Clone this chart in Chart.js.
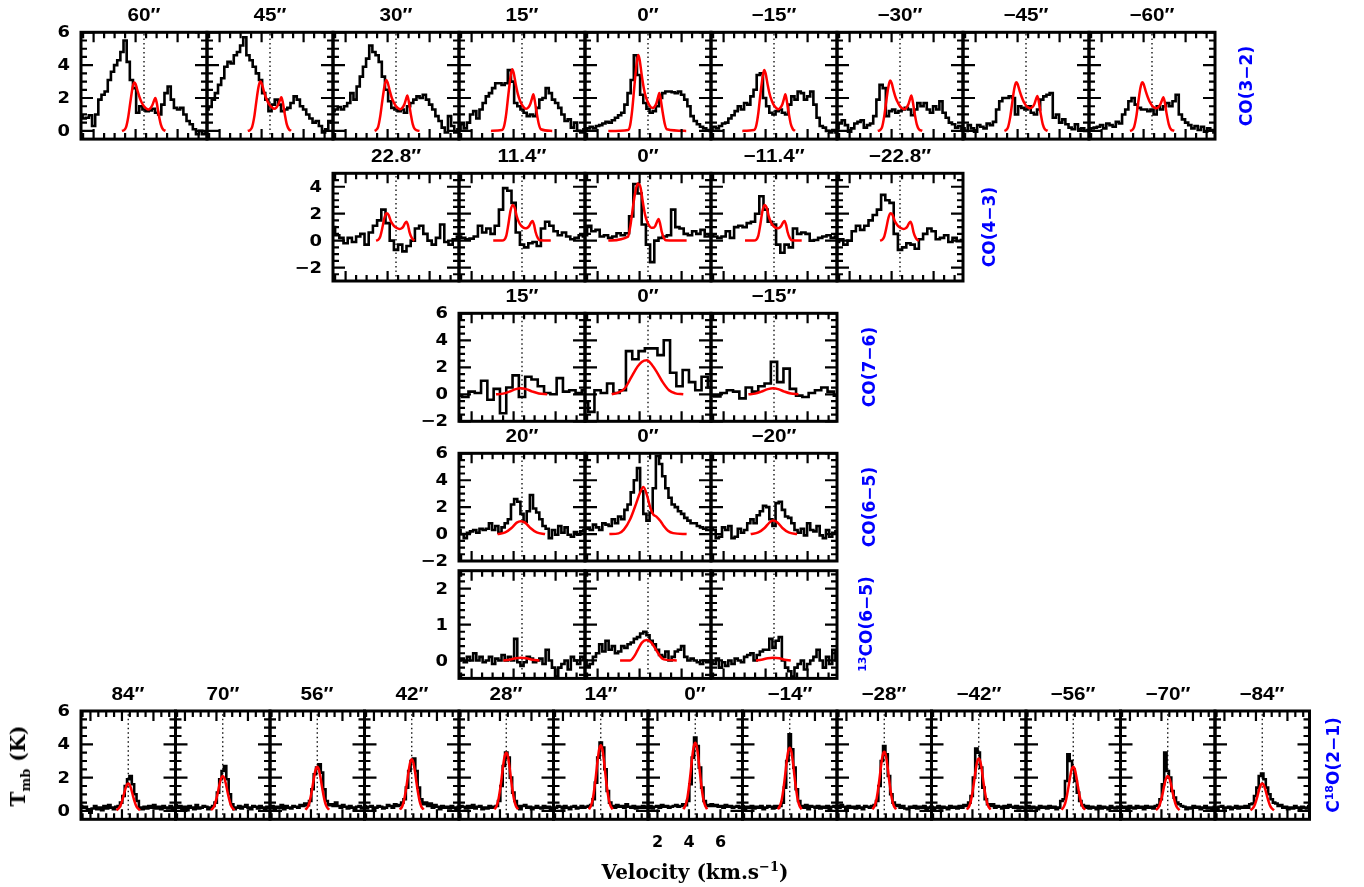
<!DOCTYPE html>
<html>
<head>
<meta charset="utf-8">
<title>CO spectra cuts</title>
<script src="https://cdn.jsdelivr.net/npm/chart.js@4.4.1/dist/chart.umd.min.js"></script>
<style>
  body { margin: 0; background: #fff; }
  #page { position: relative; width: 1364px; height: 887px; overflow: hidden; background: #fff; }
  canvas { position: absolute; }
  .ttl { position: absolute; transform: translate(-50%, -50%) scaleX(1.15); font: bold 18px "Liberation Sans", Arial, sans-serif; color: #000; white-space: nowrap; line-height: 1; }
  .side { position: absolute; transform: translate(-50%, -50%) rotate(-90deg); font: bold 17px "DejaVu Sans", sans-serif; color: #0000ff; white-space: nowrap; line-height: 1; }
  .side sup { font-size: 11px; }
  .axis { position: absolute; font: bold 20px "DejaVu Serif", serif; color: #000; white-space: nowrap; line-height: 1; }
  .axis sup { font-size: 13px; }
  .axis sub { font-size: 13px; }
</style>
</head>
<body>
<div id="page"></div>
<script>
// velocity channels (km/s)
const VEL_41 = [1.4,1.55,1.7,1.85,2.0,2.15,2.3,2.45,2.6,2.75,2.9,3.05,3.2,3.35,3.5,3.65,3.8,3.95,4.1,4.25,4.4,4.55,4.7,4.85,5.0,5.15,5.3,5.45,5.6,5.75,5.9,6.05,6.2,6.35,6.5,6.65,6.8,6.95,7.1,7.25,7.4];
const VEL_31 = [1.4,1.6,1.8,2.0,2.2,2.4,2.6,2.8,3.0,3.2,3.4,3.6,3.8,4.0,4.2,4.4,4.6,4.8,5.0,5.2,5.4,5.6,5.8,6.0,6.2,6.4,6.6,6.8,7.0,7.2,7.4];
const VEL_21 = [1.4,1.7,2.0,2.3,2.6,2.9,3.2,3.5,3.8,4.1,4.4,4.7,5.0,5.3,5.6,5.9,6.2,6.5,6.8,7.1,7.4];

const V_SYS = 4.4;
const X_MIN = 1.4;
const X_MAX = 7.4;
const X_MAJOR = [2, 4, 6];
const X_MINOR = [1.5, 2.5, 3, 3.5, 4.5, 5, 5.5, 6.5, 7];
const X_LABELS = [2, 4, 6];

// ---- CO(3-2) ----
const CO32_TITLES = ["60″", "45″", "30″", "15″", "0″", "−15″", "−30″", "−45″", "−60″"];
const CO32_BLACK = [
  [0.9,0.75,0.8,0.95,0.3,1.0,1.9,2.2,2.4,3.1,3.6,4.0,4.3,4.8,5.5,4.2,3.1,2.6,1.1,1.5,1.3,1.2,1.25,1.35,1.1,1.0,1.6,2.3,2.7,1.9,1.4,1.3,1.4,1.0,0.6,0.4,0.1,-0.2,0.0,-0.2,-0.1],
  [1.3,1.45,1.9,2.3,2.8,3.2,3.9,4.2,4.1,4.6,4.8,5.2,5.7,4.6,4.3,3.9,3.5,3.1,2.3,1.9,1.2,1.6,1.9,1.6,1.2,1.3,1.4,1.7,2.1,1.9,1.5,1.3,1.0,0.75,0.5,0.6,0.3,-0.1,0.1,0.6,0.5],
  [1.2,1.3,1.45,1.3,1.5,1.7,2.3,1.9,2.7,3.3,3.9,4.4,5.2,4.8,4.6,4.2,3.3,2.5,1.8,1.4,1.3,1.2,1.3,1.1,1.5,1.7,1.9,2.1,2.0,2.2,1.9,1.6,1.3,0.9,0.6,0.2,-0.1,0.9,0.3,-0.1,0.1],
  [0.1,0.4,0.15,0.5,1.0,1.2,0.75,1.3,1.7,2.1,2.3,2.6,2.9,2.9,2.8,2.9,3.7,3.0,1.7,1.5,1.3,1.1,0.9,1.0,0.9,1.4,1.9,2.0,2.6,2.3,1.9,1.7,1.4,1.0,0.6,0.7,0.2,0.5,0.0,-0.1,0.1],
  [0.0,0.15,0.25,0.15,0.3,0.35,0.45,0.55,0.5,0.65,0.8,0.95,1.1,1.6,2.3,3.1,4.6,3.4,2.2,1.7,1.35,1.1,1.2,1.5,2.0,2.3,2.4,2.4,2.35,2.3,2.4,2.2,1.9,1.5,0.9,0.6,0.4,0.25,0.15,0.05,0.0],
  [0.05,0.25,0.15,0.3,0.45,0.5,0.75,0.95,1.2,1.5,1.3,1.7,1.6,2.1,2.5,3.4,3.5,2.0,1.5,1.1,1.0,1.2,1.3,1.1,1.0,1.6,2.1,1.9,2.4,2.3,1.9,2.1,2.4,1.6,0.8,0.3,0.2,0.0,-0.1,0.05,-0.1],
  [0.15,0.45,0.65,0.35,-0.05,0.15,0.45,0.55,0.65,0.2,0.35,0.45,0.9,1.9,2.8,2.6,0.9,1.2,1.3,1.1,1.2,1.3,1.4,1.3,0.95,1.3,1.7,1.5,1.7,1.3,1.1,1.5,1.3,1.8,1.1,0.8,0.5,0.4,0.2,0.3,0.1],
  [0.15,0.0,0.35,0.15,-0.05,0.35,0.25,0.15,0.45,0.35,0.55,1.3,1.8,2.0,2.0,2.1,2.0,1.0,1.5,1.4,1.3,1.5,1.1,1.0,1.3,1.9,2.1,2.2,2.3,0.8,1.0,0.5,0.7,0.4,0.2,0.1,0.4,0.1,0.15,0.0,0.05],
  [0.05,0.15,0.2,0.25,0.35,0.15,0.45,0.35,0.25,0.55,0.45,1.0,1.3,1.8,2.0,1.6,1.4,1.3,1.3,1.2,1.3,1.0,1.5,1.3,1.5,1.7,1.5,1.8,2.2,1.0,0.7,0.5,0.35,0.15,0.3,0.05,0.25,-0.05,0.15,0.05,-0.1]
];
const CO32_RED_V = [3.45,3.55,3.65,3.75,3.85,3.93,4.0,4.1,4.2,4.3,4.4,4.5,4.6,4.7,4.8,4.88,4.94,5.0,5.1,5.2,5.3];
const CO32_RED = [
  [0.05,0.25,0.85,1.75,2.6,2.95,2.85,2.4,2.0,1.7,1.5,1.37,1.3,1.37,1.57,1.85,2.0,1.75,1.0,0.4,0.1],
  [0.05,0.25,0.85,1.8,2.65,3.0,2.9,2.45,2.05,1.75,1.55,1.42,1.35,1.42,1.62,1.9,2.05,1.8,1.05,0.4,0.1],
  [0.05,0.25,0.9,1.85,2.7,3.1,2.95,2.45,2.0,1.72,1.5,1.38,1.32,1.4,1.62,1.95,2.15,1.85,1.05,0.4,0.1],
  [0.05,0.3,1.05,2.2,3.25,3.75,3.55,2.85,2.25,1.85,1.58,1.42,1.34,1.42,1.65,2.0,2.23,1.9,1.1,0.42,0.1],
  [0.06,0.35,1.3,2.7,4.0,4.62,4.35,3.4,2.6,2.05,1.72,1.5,1.4,1.45,1.68,2.05,2.3,1.95,1.12,0.42,0.1],
  [0.05,0.3,1.05,2.2,3.2,3.71,3.5,2.8,2.2,1.82,1.55,1.4,1.32,1.4,1.62,1.98,2.23,1.9,1.1,0.42,0.1],
  [0.05,0.25,0.9,1.85,2.7,3.06,2.92,2.42,2.0,1.72,1.5,1.38,1.32,1.4,1.62,1.95,2.15,1.85,1.05,0.4,0.1],
  [0.05,0.25,0.85,1.78,2.62,2.96,2.86,2.42,2.05,1.75,1.55,1.43,1.38,1.44,1.64,1.95,2.13,1.85,1.05,0.4,0.1],
  [0.05,0.25,0.85,1.78,2.62,2.96,2.86,2.42,2.05,1.75,1.55,1.43,1.38,1.44,1.62,1.88,2.05,1.8,1.02,0.4,0.1]
];
const CO32_RED_START = [3.35, 3.34, 3.38, 2.92, 2.51, 2.89, 3.34, 3.37, 3.35];
const CO32_RED_END = [5.42, 5.4, 5.52, 5.84, 6.22, 5.4, 5.46, 5.43, 5.46];
const CO32_Y_MAJOR = [0, 2, 4, 6];
const CO32_Y_MINOR = [0.5, 1, 1.5, 2.5, 3, 3.5, 4.5, 5, 5.5];

// ---- CO(4-3) ----
const CO43_TITLES = ["22.8″", "11.4″", "0″", "−11.4″", "−22.8″"];
const CO43_BLACK = [
  [1.0,0.4,0.2,-0.2,0.2,-0.1,0.3,0.5,-0.3,0.6,1.1,1.5,2.3,1.3,0.0,-0.7,-0.3,-0.8,-0.4,0.0,0.9,1.1,0.5,0.0,-0.3,0.2,1.2,-0.1,-0.3,0.1,0.3],
  [0.3,0.2,0.1,0.15,0.3,1.1,0.6,0.9,0.5,1.1,2.3,3.9,3.7,2.8,0.6,-0.3,-0.5,-0.2,-0.1,-0.4,0.9,1.4,1.1,0.7,0.4,0.6,0.3,0.1,0.2,0.4,0.3],
  [0.4,1.1,0.7,0.8,0.3,0.4,0.2,0.3,0.55,0.4,0.55,1.8,4.2,3.5,1.2,-0.3,-1.6,0.0,0.2,0.3,0.4,2.3,1.0,0.9,0.5,0.4,0.7,0.5,0.8,0.3,0.4],
  [0.4,0.3,0.2,0.3,0.7,0.2,1.0,1.1,1.0,1.3,1.4,2.0,3.3,2.3,1.4,1.2,-0.3,-0.9,-0.3,-0.5,0.9,0.5,0.6,0.5,0.0,0.05,0.2,0.3,0.4,0.2,0.3],
  [-0.1,0.1,-0.3,0.0,0.7,1.1,0.8,1.1,1.5,1.9,2.3,3.4,3.0,2.8,0.5,-0.7,-0.5,-0.2,-0.3,-0.6,0.1,0.5,0.9,0.7,0.1,0.2,0.4,-0.1,0.2,-0.05,0.05]
];
const CO43_RED_V = [3.45,3.55,3.65,3.75,3.85,3.95,4.05,4.15,4.25,4.35,4.45,4.55,4.65,4.75,4.83,4.9,4.97,5.05,5.15,5.25];
const CO43_RED = [
  [0.0,0.05,0.3,0.95,1.7,2.03,1.9,1.45,1.2,1.02,0.92,0.87,0.9,1.05,1.3,1.41,1.15,0.6,0.2,0.03],
  [0.0,0.05,0.35,1.2,2.2,2.65,2.45,1.8,1.38,1.12,0.98,0.92,0.95,1.1,1.35,1.46,1.2,0.62,0.2,0.03],
  [0.3,1.0,2.1,3.2,4.0,4.26,3.9,2.9,2.0,1.45,1.12,0.95,0.95,1.1,1.4,1.6,1.3,0.68,0.22,0.03],
  [0.0,0.05,0.35,1.2,2.2,2.65,2.45,1.8,1.38,1.12,0.98,0.92,0.95,1.1,1.35,1.46,1.2,0.62,0.2,0.03],
  [0.0,0.05,0.3,0.95,1.7,2.03,1.9,1.45,1.2,1.02,0.92,0.87,0.9,1.05,1.3,1.41,1.15,0.6,0.2,0.03]
];
const CO43_RED_START = [3.5, 3.03, 2.51, 3.02, 3.5];
const CO43_RED_END = [5.28, 5.77, 6.24, 5.72, 5.3];
const CO43_Y_MAJOR = [-2, 0, 2, 4];
const CO43_Y_MINOR = [-2.5, -1.5, -1, -0.5, 0.5, 1, 1.5, 2.5, 3, 3.5, 4.5];

// ---- CO(7-6) ----
const CO76_TITLES = ["15″", "0″", "−15″"];
const CO76_BLACK = [
  [-0.1,-0.2,0.2,0.1,1.0,-0.4,0.4,-1.4,0.5,1.4,-0.2,1.3,1.1,0.6,0.1,0.0,1.2,0.2,0.3,0.1,0.3],
  [-0.6,-1.3,0.3,0.1,0.8,0.1,0.3,3.2,2.6,3.2,3.4,3.4,2.9,4.0,1.6,0.6,1.8,0.9,0.3,1.3,0.5],
  [-0.1,-0.15,0.1,0.3,0.2,-0.3,0.5,0.2,0.6,0.8,2.4,0.9,1.9,0.4,-0.1,-0.2,0.1,0.3,0.5,0.2,-0.1]
];
const CO76_RED_V = [
  [3.16,3.5,3.8,4.1,4.35,4.6,4.9,5.2,5.6],
  [2.67,3.0,3.3,3.6,3.9,4.1,4.35,4.6,4.8,5.1,5.4,5.7,6.08],
  [3.18,3.5,3.8,4.1,4.37,4.6,4.9,5.2,5.56]
];
const CO76_RED = [
  [0,0.05,0.2,0.38,0.45,0.38,0.2,0.06,0],
  [0,0.15,0.45,1.25,2.05,2.4,2.52,2.15,1.7,0.9,0.3,0.07,0],
  [0,0.05,0.2,0.38,0.45,0.38,0.2,0.06,0]
];
const CO76_Y_MAJOR = [-2, 0, 2, 4, 6];
const CO76_Y_MINOR = [-1.5, -1, -0.5, 0.5, 1, 1.5, 2.5, 3, 3.5, 4.5, 5, 5.5];

// ---- CO(6-5) ----
const CO65_TITLES = ["20″", "0″", "−20″"];
const CO65_BLACK = [
  [0.3,0.0,-0.3,0.1,0.2,0.3,0.1,0.4,0.3,0.4,0.8,0.3,0.6,0.1,0.5,0.8,1.1,2.2,2.6,2.4,1.5,0.9,1.7,2.9,1.9,1.6,1.1,0.6,0.4,-0.3,0.3,-0.05,0.6,0.1,0.5,-0.05,-0.2,0.15,-0.05,0.2,0.3],
  [0.4,0.4,0.3,0.7,0.5,0.3,0.8,0.7,0.6,1.1,0.8,1.3,1.1,1.8,2.2,3.1,4.0,4.9,3.2,1.5,1.0,1.6,3.4,5.8,5.2,4.3,3.4,2.7,2.2,2.0,1.7,1.5,1.2,1.0,0.8,0.8,0.6,0.5,0.4,0.3,0.3],
  [0.4,0.3,-0.3,-0.2,0.5,0.3,0.6,-0.3,-0.2,0.4,0.1,0.3,0.8,1.1,0.8,1.4,1.7,2.1,2.0,1.1,0.6,2.3,2.4,1.8,1.3,1.2,0.8,0.3,0.1,0.4,-0.1,0.8,0.3,0.2,0.6,-0.1,-0.3,0.3,-0.2,0.1,0.2]
];
const CO65_RED_V = [
  [3.23,3.6,3.9,4.15,4.34,4.55,4.8,5.1,5.5],
  [2.56,3.0,3.25,3.55,3.85,4.0,4.18,4.35,4.5,4.65,4.8,5.0,5.15,5.35,5.6,6.24],
  [3.29,3.65,3.95,4.18,4.34,4.55,4.8,5.1,5.5]
];
const CO65_RED = [
  [0,0.12,0.45,0.85,0.96,0.85,0.45,0.12,0],
  [0,0.05,0.33,1.1,2.34,3.0,3.5,2.9,2.0,1.45,1.3,0.95,0.6,0.25,0.07,0],
  [0,0.12,0.45,0.85,1.0,0.88,0.45,0.12,0]
];
const CO65_Y_MAJOR = [-2, 0, 2, 4, 6];
const CO65_Y_MINOR = [-1.5, -1, -0.5, 0.5, 1, 1.5, 2.5, 3, 3.5, 4.5, 5, 5.5];

// ---- 13CO(6-5) ----
const C13O_BLACK = [
  [0.0,0.05,-0.05,0.1,0.0,0.2,0.0,0.1,-0.05,0.0,0.1,-0.1,0.05,0.0,0.15,0.0,0.1,0.0,0.6,-0.05,-0.15,-0.05,0.1,0.05,-0.05,0.0,0.05,-0.1,0.3,0.0,-0.2,-0.45,-0.2,-0.1,0.0,-0.25,0.1,0.0,-0.1,0.1,0.05],
  [0.0,-0.15,-0.1,0.1,0.2,0.45,0.25,0.55,0.3,0.4,0.2,0.25,0.4,0.35,0.45,0.5,0.6,0.65,0.75,0.8,0.7,0.55,0.45,0.3,0.15,0.1,0.25,0.0,0.1,0.25,0.3,0.4,0.1,0.0,0.05,0.0,-0.05,-0.1,0.0,-0.05,0.0],
  [0.0,-0.1,0.05,-0.2,-0.05,-0.15,0.0,-0.1,0.05,0.0,-0.05,0.1,0.15,0.2,0.0,0.15,0.25,0.3,0.3,0.6,0.35,0.55,0.65,0.0,-0.2,-0.3,-0.45,-0.2,-0.1,0.0,-0.25,-0.1,0.0,0.1,0.3,0.0,-0.2,0.1,-0.1,0.3,0.0]
];
const C13O_RED_V = [
  [3.51,3.8,4.1,4.35,4.6,4.9,5.23],
  [3.07,3.55,3.75,3.9,4.1,4.34,4.57,4.8,5.0,5.15,5.77],
  [3.54,3.8,4.1,4.37,4.65,4.9,5.2]
];
const C13O_RED = [
  [0,0.02,0.06,0.075,0.06,0.02,0],
  [0,0.0,0.12,0.28,0.49,0.57,0.49,0.28,0.1,0.03,0],
  [0,0.02,0.06,0.075,0.06,0.02,0]
];
const C13O_Y_MAJOR = [0, 1, 2];
const C13O_Y_MINOR = [-0.4, -0.2, 0.2, 0.4, 0.6, 0.8, 1.2, 1.4, 1.6, 1.8, 2.2, 2.4];

// ---- C18O(2-1) ----
const C18O_TITLES = ["84″", "70″", "56″", "42″", "28″", "14″", "0″", "−14″", "−28″", "−42″", "−56″", "−70″", "−84″"];
const C18O_BLACK = [
  [0.3,0.2,0.25,0.1,-0.1,0.15,0.3,0.1,0.2,0.05,0.3,0.15,0.35,0.2,0.1,0.25,0.3,0.5,0.9,1.5,1.9,2.1,1.6,1.0,0.6,0.2,0.1,0.25,0.15,0.3,0.2,0.35,0.15,0.25,0.1,0.3,0.2,0.15,0.3,0.1,0.2],
  [0.35,0.2,0.3,0.1,0.25,0.05,0.3,0.2,0.1,0.35,0.15,0.2,0.3,0.25,0.1,0.2,0.3,0.5,1.1,1.9,2.4,2.7,1.9,1.0,0.4,0.1,0.2,0.3,0.15,0.25,0.35,0.2,0.1,0.3,0.25,0.15,0.3,0.2,0.1,0.25,0.2],
  [0.2,0.3,0.1,0.25,0.2,0.35,0.1,0.3,0.2,0.15,0.3,0.25,0.2,0.35,0.3,0.45,0.35,0.6,1.3,2.2,2.6,2.8,2.3,1.3,0.6,0.35,0.4,0.3,0.5,0.3,0.2,0.35,0.25,0.15,0.3,0.2,0.1,0.25,0.3,0.15,0.2],
  [0.3,0.15,0.25,0.3,0.1,0.2,0.3,0.25,0.15,0.2,0.35,0.3,0.2,0.4,0.3,0.35,0.5,0.7,1.4,2.4,3.0,3.15,2.4,1.4,0.7,0.4,0.5,0.3,0.45,0.2,0.35,0.25,0.1,0.3,0.2,0.25,0.15,0.3,0.2,0.1,0.25],
  [0.2,0.3,0.25,0.15,0.3,0.2,0.35,0.15,0.25,0.3,0.1,0.2,0.15,0.3,0.2,0.25,0.3,0.6,1.5,2.7,3.5,3.2,2.0,1.1,0.6,0.3,0.1,0.3,0.35,0.2,0.25,0.1,0.2,0.3,0.2,0.15,0.3,0.2,0.25,0.1,0.2],
  [0.1,0.2,0.3,0.25,0.15,0.3,0.2,0.1,0.25,0.3,0.15,0.2,0.3,0.2,0.25,0.3,0.35,0.7,1.7,3.2,4.1,3.8,2.5,1.2,0.5,0.3,0.2,0.35,0.25,0.3,0.2,0.4,0.25,0.2,0.3,0.15,0.25,0.2,0.3,0.2,0.25],
  [0.2,0.3,0.15,0.25,0.3,0.2,0.35,0.25,0.3,0.2,0.25,0.3,0.35,0.25,0.3,0.4,0.35,0.6,1.6,3.2,4.4,3.9,2.6,1.4,0.6,0.35,0.3,0.4,0.3,0.35,0.25,0.3,0.2,0.35,0.25,0.3,0.2,0.25,0.3,0.2,0.25],
  [0.3,0.1,0.25,0.2,0.3,0.15,0.25,0.2,0.3,0.1,0.2,0.3,0.25,0.15,0.3,0.2,0.3,0.5,1.4,3.0,4.6,3.7,2.6,1.3,0.6,0.3,0.2,0.35,0.1,0.3,0.25,0.2,0.3,0.15,0.25,0.2,0.3,0.1,0.25,0.3,0.2],
  [0.3,0.2,0.35,0.25,0.1,0.3,0.2,0.25,0.15,0.3,0.2,0.1,0.3,0.25,0.2,0.3,0.35,0.6,1.5,3.0,3.9,3.4,2.1,1.0,0.5,0.3,0.35,0.2,0.3,0.15,0.1,0.25,0.2,0.3,0.15,0.25,0.2,0.3,0.1,0.2,0.25],
  [0.25,0.1,0.2,0.3,0.15,0.25,0.2,0.1,0.3,0.2,0.25,0.15,0.3,0.2,0.35,0.3,0.5,0.9,2.0,3.75,3.5,2.6,1.4,0.7,0.4,0.3,0.4,0.2,0.3,0.25,0.15,0.3,0.2,0.35,0.25,0.2,0.3,0.15,0.25,0.2,0.1],
  [0.2,0.3,0.15,0.25,0.2,0.1,0.3,0.2,0.25,0.15,0.3,0.2,0.25,0.1,0.2,0.6,0.7,1.8,3.4,3.0,2.5,1.8,1.1,0.6,0.35,0.2,0.3,0.15,0.25,0.2,0.1,0.3,0.15,0.25,0.2,0.1,0.3,0.2,0.15,0.25,0.2],
  [0.3,0.2,0.25,0.1,0.3,0.2,0.15,0.3,0.2,0.25,0.1,0.3,0.2,0.25,0.15,0.3,0.35,0.7,1.6,3.5,2.4,2.0,1.2,0.8,0.5,0.4,0.3,0.25,0.1,0.2,0.15,0.3,0.2,0.25,0.1,0.2,0.3,0.15,0.2,0.1,0.25],
  [0.2,0.1,0.25,0.3,0.15,0.2,0.25,0.1,0.2,0.3,0.15,0.25,0.2,0.3,0.2,0.4,0.45,0.9,1.4,2.1,2.25,1.9,1.4,1.0,0.7,0.5,0.45,0.3,0.35,0.2,0.25,0.1,0.2,0.15,0.3,0.2,0.1,0.25,0.2,0.15,0.3]
];
const C18O_RED_V = [3.65,3.8,3.9,4.0,4.1,4.2,4.3,4.4,4.5,4.6,4.7,4.8,4.9,5.0,5.15];
const C18O_RED = [
  [0.04,0.16,0.31,0.58,0.91,1.27,1.55,1.65,1.55,1.27,0.91,0.58,0.31,0.16,0.04],
  [0.05,0.2,0.4,0.74,1.16,1.62,1.97,2.1,1.97,1.62,1.16,0.74,0.4,0.2,0.05],
  [0.07,0.25,0.5,0.93,1.46,2.04,2.49,2.65,2.49,2.04,1.46,0.93,0.5,0.25,0.07],
  [0.08,0.29,0.59,1.09,1.71,2.39,2.91,3.1,2.91,2.39,1.71,1.09,0.59,0.29,0.08],
  [0.09,0.33,0.67,1.23,1.93,2.7,3.29,3.5,3.29,2.7,1.93,1.23,0.67,0.33,0.09],
  [0.1,0.37,0.75,1.38,2.17,3.04,3.71,3.95,3.71,3.04,2.17,1.38,0.75,0.37,0.1],
  [0.1,0.39,0.78,1.44,2.26,3.16,3.85,4.1,3.85,3.16,2.26,1.44,0.78,0.39,0.1],
  [0.1,0.36,0.72,1.33,2.09,2.93,3.57,3.8,3.57,2.93,2.09,1.33,0.72,0.36,0.1],
  [0.09,0.33,0.67,1.24,1.95,2.73,3.34,3.55,3.34,2.73,1.95,1.24,0.67,0.33,0.09],
  [0.08,0.3,0.6,1.1,1.73,2.43,2.96,3.15,2.96,2.43,1.73,1.1,0.6,0.3,0.08],
  [0.07,0.25,0.5,0.93,1.46,2.04,2.49,2.65,2.49,2.04,1.46,0.93,0.5,0.25,0.07],
  [0.05,0.2,0.4,0.74,1.16,1.62,1.97,2.1,1.97,1.62,1.16,0.74,0.4,0.2,0.05],
  [0.04,0.16,0.31,0.58,0.91,1.27,1.55,1.65,1.55,1.27,0.91,0.58,0.31,0.16,0.04]
];
const C18O_Y_MAJOR = [0, 2, 4, 6];
const C18O_Y_MINOR = [0.5, 1, 1.5, 2.5, 3, 3.5, 4.5, 5, 5.5];

// panel rows: placement on the page + which arrays they use
const ROWS = [
  { left: 81, top: 32.3, w: 126, h: 106.8, ymin: -0.5, ymax: 6, titles: CO32_TITLES, vel: VEL_41, black: CO32_BLACK,
    redV: CO32_RED_V, red: CO32_RED, redStart: CO32_RED_START, redEnd: CO32_RED_END, yMajor: CO32_Y_MAJOR, yMinor: CO32_Y_MINOR },
  { left: 333, top: 173.3, w: 126, h: 107.7, ymin: -3, ymax: 5, titles: CO43_TITLES, vel: VEL_31, black: CO43_BLACK,
    redV: CO43_RED_V, red: CO43_RED, redStart: CO43_RED_START, redEnd: CO43_RED_END, yMajor: CO43_Y_MAJOR, yMinor: CO43_Y_MINOR },
  { left: 459, top: 313.3, w: 126, h: 108, ymin: -2, ymax: 6, titles: CO76_TITLES, vel: VEL_21, black: CO76_BLACK,
    redV: CO76_RED_V, red: CO76_RED, yMajor: CO76_Y_MAJOR, yMinor: CO76_Y_MINOR },
  { left: 459, top: 453.3, w: 126, h: 107.7, ymin: -2, ymax: 6, titles: CO65_TITLES, vel: VEL_41, black: CO65_BLACK,
    redV: CO65_RED_V, red: CO65_RED, yMajor: CO65_Y_MAJOR, yMinor: CO65_Y_MINOR },
  { left: 459, top: 570.7, w: 126, h: 107.7, ymin: -0.5, ymax: 2.5, titles: [], vel: VEL_41, black: C13O_BLACK,
    redV: C13O_RED_V, red: C13O_RED, yMajor: C13O_Y_MAJOR, yMinor: C13O_Y_MINOR },
  { left: 81, top: 711, w: 94.5, h: 108.3, ymin: -0.5, ymax: 6, titles: C18O_TITLES, vel: VEL_41, black: C18O_BLACK,
    redV: C18O_RED_V, red: C18O_RED, yMajor: C18O_Y_MAJOR, yMinor: C18O_Y_MINOR, xLabelPanel: 6 }
];

const page = document.getElementById("page");
const LABEL_FONT = 'bold 16px "DejaVu Sans", sans-serif';

function fmtTick(v) {
  return String(v).replace("-", "−");
}

function stretchedText(ctx, txt, x, y, sx) {
  ctx.save();
  ctx.translate(x, y);
  ctx.scale(sx, 1);
  ctx.fillText(txt, 0, 0);
  ctx.restore();
}

// frame, inward ticks on all four sides, and tick labels
const frameTicks = {
  id: "frameTicks",
  afterDraw(chart, args, opts) {
    const { ctx, chartArea: a, scales: { x, y } } = chart;
    ctx.save();
    ctx.setLineDash([]);
    ctx.strokeStyle = "#000";
    ctx.lineWidth = 2.2;
    ctx.beginPath();
    const xTick = (v, len) => {
      const px = x.getPixelForValue(v);
      ctx.moveTo(px, a.top); ctx.lineTo(px, a.top + len);
      ctx.moveTo(px, a.bottom); ctx.lineTo(px, a.bottom - len);
    };
    const yTick = (v, len) => {
      const py = y.getPixelForValue(v);
      ctx.moveTo(a.left, py); ctx.lineTo(a.left + len, py);
      ctx.moveTo(a.right, py); ctx.lineTo(a.right - len, py);
    };
    X_MAJOR.forEach(v => xTick(v, 10));
    X_MINOR.forEach(v => xTick(v, 6));
    opts.yMajor.forEach(v => yTick(v, 12));
    opts.yMinor.forEach(v => yTick(v, 6));
    ctx.stroke();
    ctx.lineWidth = 3;
    ctx.strokeRect(a.left, a.top, a.right - a.left, a.bottom - a.top);

    ctx.fillStyle = "#000";
    ctx.font = LABEL_FONT;
    if (opts.showY) {
      ctx.textAlign = "right";
      ctx.textBaseline = "middle";
      opts.yMajor.forEach(v => stretchedText(ctx, fmtTick(v), a.left - 11, y.getPixelForValue(v) + 1, 1.12));
    }
    if (opts.showX) {
      ctx.textAlign = "center";
      ctx.textBaseline = "middle";
      X_LABELS.forEach(v => stretchedText(ctx, fmtTick(v), x.getPixelForValue(v), a.bottom + 24, 1.0));
    }
    ctx.restore();
  }
};

function redPoints(row, i) {
  const vs = Array.isArray(row.redV[0]) ? row.redV[i] : row.redV;
  const pts = vs.map((v, k) => ({ x: v, y: row.red[i][k] }));
  if (row.redStart && row.redStart[i] < vs[0]) pts.unshift({ x: row.redStart[i], y: 0 });
  if (row.redEnd && row.redEnd[i] > vs[vs.length - 1]) pts.push({ x: row.redEnd[i], y: 0 });
  return pts;
}

function addText(cls, html, x, y) {
  const d = document.createElement("div");
  d.className = cls;
  d.innerHTML = html;
  d.style.left = x + "px";
  d.style.top = y + "px";
  page.appendChild(d);
  return d;
}

function makePanel(row, i) {
  const pad = 12;
  const isLeft = i === 0;
  const showX = row.xLabelPanel === i;
  const yw = isLeft ? 56 : 0;
  const xh = showX ? 36 : 0;

  const L = row.left + row.w * i;
  const T = row.top;
  const cl = Math.floor(L) - pad - yw;
  const ct = Math.floor(T) - pad;
  const cw = Math.ceil(L + row.w + pad) - cl;
  const ch = Math.ceil(T + row.h + xh + pad) - ct;

  const canvas = document.createElement("canvas");
  canvas.width = cw;
  canvas.height = ch;
  canvas.style.left = cl + "px";
  canvas.style.top = ct + "px";
  canvas.style.width = cw + "px";
  canvas.style.height = ch + "px";
  page.appendChild(canvas);

  if (row.titles[i]) addText("ttl", row.titles[i], L + row.w / 2, T - 17);

  const black = row.vel.map((v, k) => ({ x: v, y: row.black[i][k] }));

  new Chart(canvas.getContext("2d"), {
    type: "line",
    data: {
      datasets: [
        { data: redPoints(row, i), borderColor: "#ff0000", borderWidth: 2.5, pointRadius: 0,
          cubicInterpolationMode: "monotone", order: 0 },
        { data: black, borderColor: "#000", borderWidth: 2.6, pointRadius: 0, stepped: "middle", order: 1 },
        { data: [{ x: V_SYS, y: row.ymin }, { x: V_SYS, y: row.ymax }], borderColor: "#000",
          borderWidth: 1.3, borderDash: [1.5, 3], pointRadius: 0, order: 2 }
      ]
    },
    options: {
      responsive: false,
      maintainAspectRatio: false,
      animation: false,
      events: [],
      layout: {
        padding: {
          left: L - cl,
          right: cl + cw - (L + row.w),
          top: T - ct,
          bottom: ct + ch - (T + row.h)
        }
      },
      scales: {
        x: { type: "linear", min: X_MIN, max: X_MAX, display: false },
        y: { type: "linear", min: row.ymin, max: row.ymax, display: false }
      },
      plugins: {
        legend: { display: false },
        tooltip: { enabled: false },
        frameTicks: { yMajor: row.yMajor, yMinor: row.yMinor, showY: isLeft, showX: showX }
      }
    },
    plugins: [frameTicks]
  });
}

ROWS.forEach(row => {
  row.black.forEach((_, i) => makePanel(row, i));
});

// line labels on the right, axis titles
addText("side", "CO(3−2)", 1246, 86);
addText("side", "CO(4−3)", 989, 227);
addText("side", "CO(7−6)", 869, 367);
addText("side", "CO(6−5)", 869, 507);
addText("side", "<sup>13</sup>CO(6−5)", 866, 624);
addText("side", "C<sup>18</sup>O(2−1)", 1333, 765);

const yTitle = addText("axis", "T<sub>mb</sub> (K)", 20, 766);
yTitle.style.transform = "translate(-50%, -50%) rotate(-90deg)";
const xTitle = addText("axis", "Velocity (km.s<sup>−1</sup>)", 695, 871);
xTitle.style.transform = "translate(-50%, -50%)";
</script>
</body>
</html>
